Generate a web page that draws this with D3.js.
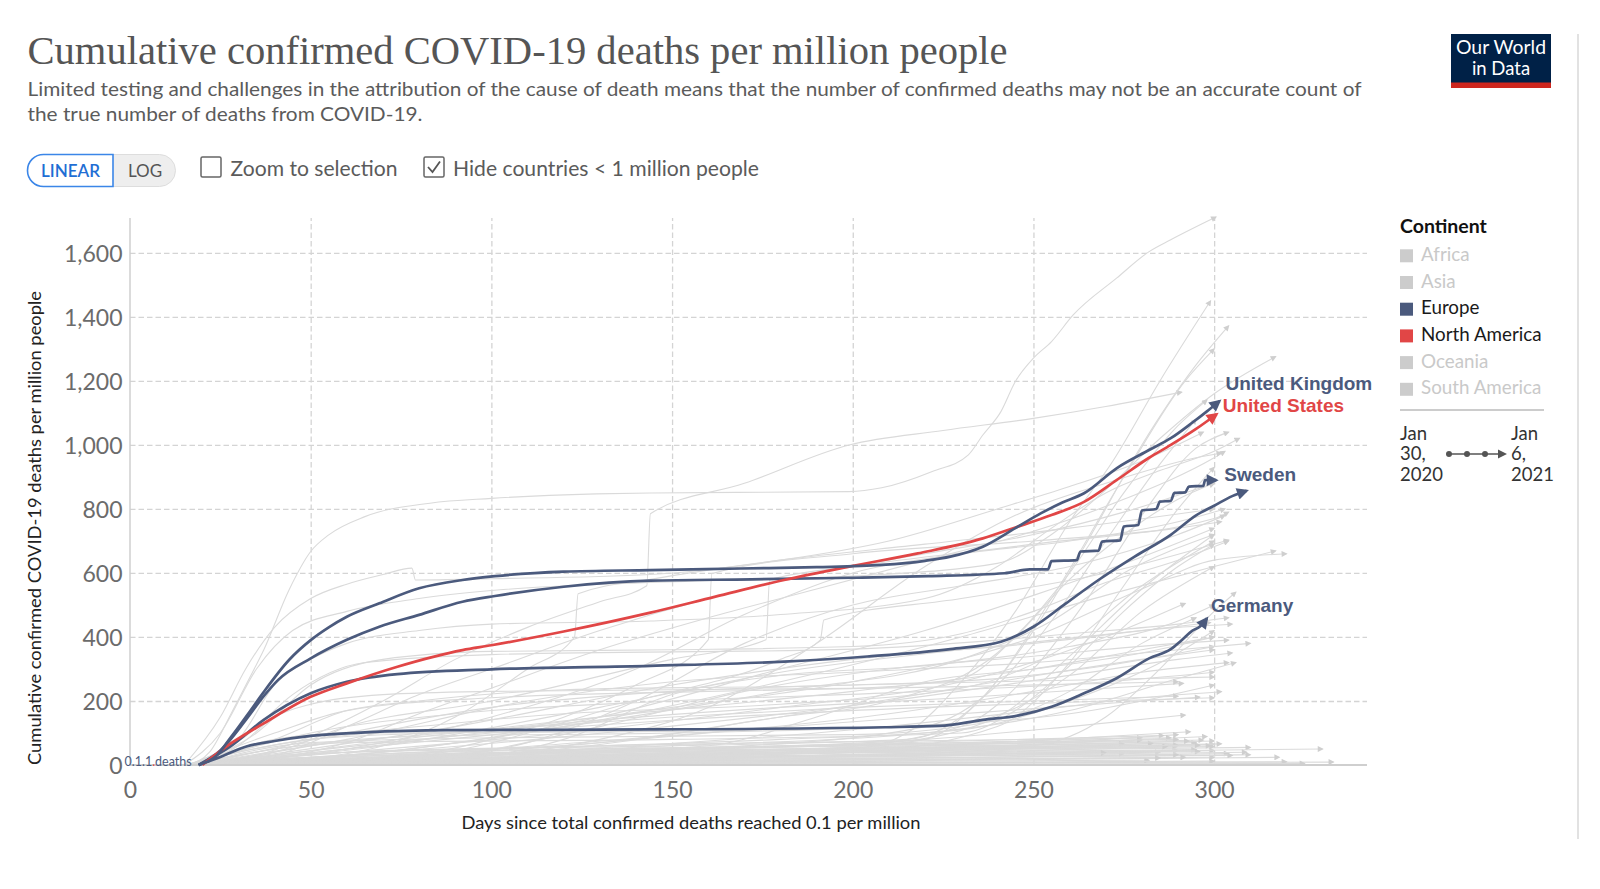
<!DOCTYPE html>
<html><head><meta charset="utf-8">
<script src="https://cdn.jsdelivr.net/npm/d3@7"></script>
<style>
body{margin:0;background:#fff;}
svg text{font-family:Lato,'Noto Sans',sans-serif;}
</style></head><body>
<svg id="chart" width="1600" height="889"></svg>
<script>
// ---------------- DATA ----------------
const xTicks = [0, 50, 100, 150, 200, 250, 300];
const yTicks = [0, 200, 400, 600, 800, 1000, 1200, 1400, 1600];
const continents = ["Africa", "Asia", "Europe", "North America", "Oceania", "South America"];
const activeContinents = ["Europe", "North America"];
const dateStart = ["Jan", "30,", "2020"];
const dateEnd = ["Jan", "6,", "2021"];

// [day, deaths per million]
const unitedKingdom = [[19,0],[24,30],[28,88],[33,165],[37,228],[44,328],[50,390],[55,430],[60,463],[69,505],[80,552],[92,578],[101,590],[120,604],[144,609],[169,614],[190,618],[208,625],[220,638],[227,651],[236,682],[245,740],[252,786],[258,820],[264,849],[273,927],[282,984],[288,1021],[294,1070],[298,1105],[301.5,1137]];
const unitedStates = [[20,0],[28,68],[37,130],[50,213],[60,255],[74,307],[92,359],[100,374],[120,417],[144,476],[162,526],[181,578],[199,620],[218,661],[236,708],[245,742],[255,781],[264,822],[273,890],[282,960],[288,1000],[295,1050],[300.7,1096]];
const sweden = [[19,0],[25,45],[32,140],[37,215],[41,266],[50,333],[60,391],[69,432],[80,469],[92,510],[101,528],[120,557],[144,576],[172,580],[200,585],[221,590],[242,599],[249,611],[254,611],[255,637],[262,640],[263,667],[268,670],[269,698],[274,702],[275,745],[279,750],[280,795],[284,800],[285,823],[288,825],[289,850],[292,852],[293,870],[297,872],[297.5,890],[300.6,890]];
const europeOther = [[19,0],[28,60],[37,141],[50,224],[60,260],[74,284],[100,299],[144,310],[181,323],[204,339],[227,362],[241,385],[250,432],[259,505],[268,578],[278,651],[288,719],[295,780],[300,810],[305,840],[309,857]];
const germany = [[19,0],[25,25],[32,57],[40,75],[50,91],[65,102],[88,109],[144,111],[209,118],[224,122],[236,141],[246,155],[255,182],[264,224],[273,271],[282,333],[288,362],[291,390],[294,420],[296,432],[298,458]];

const otherCountries = [
 [[16,0],[22,40],[28,161],[33,270],[37,359],[44,547],[50,667],[55,719],[65,776],[83,818],[100,833],[129,847],[144,850],[199,854],[208,866],[222,917],[232,969],[236,1031],[241,1104],[245,1198],[250,1271],[255,1323],[261,1406],[273,1521],[282,1604],[288,1641],[300.5,1712]],
 [[16,0],[60,10],[150,30],[200,50],[215,100],[230,260],[245,480],[260,760],[272,950],[285,1200],[299,1450]],
 [[17,0],[80,20],[180,40],[220,80],[235,200],[250,420],[265,700],[280,1000],[295,1250],[304,1372]],
 [[15,0],[25,100],[35,300],[45,420],[60,480],[80,520],[100,545],[144,570],[200,590],[240,630],[255,720],[270,860],[285,1020],[300,1160],[317,1276]],
 [[18,0],[35,30],[50,90],[70,200],[90,330],[110,430],[130,510],[143,560],[144,785],[170,880],[199,1000],[225,1045],[250,1083],[270,1120],[291,1165]],
 [[15,0],[25,150],[32,300],[40,430],[50,520],[60,565],[70,595],[78,615],[79,578],[100,582],[144,595],[180,640],[210,700],[240,800],[260,870],[280,950],[297,1040]],
 [[18,0],[40,20],[60,70],[80,160],[100,240],[130,360],[160,460],[190,550],[220,640],[250,730],[275,830],[300,960],[303,980]],
 [[17,0],[40,30],[60,120],[80,220],[100,300],[130,420],[160,520],[190,600],[220,660],[250,720],[275,790],[300,880]],
 [[18,0],[60,10],[100,30],[130,80],[160,180],[190,380],[220,620],[245,780],[270,880],[295,960],[302,975]],
 [[17,0],[50,20],[70,60],[90,150],[110,300],[123,400],[124,535],[144,580],[180,640],[220,690],[260,740],[300,800]],
 [[19,0],[60,30],[120,120],[180,260],[230,400],[270,530],[300,620],[317,669]],
 [[17,0],[60,40],[120,60],[180,150],[210,200],[240,350],[260,600],[275,850],[290,1060],[298,1140]],
 [[18,0],[80,30],[170,60],[220,120],[240,250],[255,450],[270,700],[285,940],[295,1080]],
 [[19,0],[90,20],[190,50],[230,120],[250,300],[265,520],[280,780],[295,990],[304,1040]],
 [[16,0],[30,80],[40,250],[50,330],[60,380],[80,420],[100,440],[144,450],[180,470],[220,520],[240,620],[255,740],[270,850],[285,920],[300,980],[307,1021]],
 [[18,0],[40,40],[60,120],[100,200],[150,330],[176,391],[177,578],[200,620],[250,690],[300,770],[304,790]],
 [[17,0],[60,10],[100,80],[140,250],[160,391],[161,598],[200,660],[250,700],[290,740],[302,760]],
 [[18,0],[80,30],[140,200],[180,330],[191,390],[192,453],[230,520],[270,600],[304,703]],
 [[16,0],[30,60],[40,150],[50,190],[70,220],[100,230],[200,240],[230,270],[245,400],[260,580],[275,720],[290,830],[300,880]],
 [[17,0],[35,100],[50,250],[70,330],[100,355],[150,360],[200,370],[230,410],[250,480],[270,570],[290,640],[304,700]],
 [[16,0],[32,90],[45,220],[65,320],[100,345],[200,362],[240,390],[260,410],[290,440],[304,460]],
 [[17,0],[40,80],[70,110],[120,160],[180,190],[230,240],[260,380],[280,560],[300,700]],
 [[18,0],[60,50],[120,120],[180,230],[230,330],[255,450],[275,600],[300,720]],
 [[19,0],[80,30],[160,50],[210,70],[240,150],[260,340],[280,550],[300,720]],
 [[18,0],[100,20],[200,40],[240,120],[260,320],[275,560],[290,800],[300,930]],
 [[17,0],[60,40],[150,60],[215,80],[235,200],[255,520],[275,900],[292,1200],[300,1300]],
 [[19,0],[80,20],[110,70],[140,200],[170,380],[200,500],[230,560],[260,620],[290,720],[303,780]],
 [[18,0],[60,50],[100,150],[140,300],[170,470],[200,600],[230,660],[260,700],[290,760],[303,800]],
 [[19,0],[70,40],[130,150],[180,300],[220,420],[250,530],[280,650],[300,740]],
 [[17,0],[40,50],[60,70],[150,80],[230,100],[245,170],[260,310],[275,480],[290,620],[300,690]],
 [[18,0],[100,20],[200,30],[250,60],[270,150],[285,300],[300,480],[306,540]],
 [[15,0],[30,40],[50,80],[100,110],[150,180],[200,260],[250,400],[280,550],[300,640],[320,660]],
 [[18,0],[80,10],[120,80],[150,220],[180,280],[220,310],[260,370],[290,450],[300,500]],
 [[19,0],[80,20],[130,120],[170,230],[210,300],[250,340],[290,380],[304,390]],
 [[18,0],[60,40],[120,100],[180,180],[230,260],[270,400],[292,505]],
 [[19,0],[80,30],[150,90],[210,160],[250,230],[280,290],[304,320]],
 [[17,0],[70,20],[140,60],[200,110],[250,170],[280,210],[302,229]],
 [[18,0],[60,50],[120,130],[180,180],[230,210],[270,240],[291.5,255]],
 [[19,0],[90,20],[160,50],[220,80],[260,120],[292,156]],
 [[18,0],[100,15],[180,40],[240,70],[293.4,104]],
 [[17,0],[80,10],[160,30],[230,55],[270,75],[298,89]],
 [[19,0],[100,8],[200,18],[260,28],[304,36]],
 [[18,0],[120,6],[220,14],[280,20],[318,24]],
 [[17,0],[100,15],[190,30],[250,45],[289.7,57]],
 [[18,0],[50,70],[100,85],[200,95],[240,140],[260,230],[280,380],[295,460]],
 [[19,0],[60,60],[130,150],[200,230],[250,300],[280,360],[300,400]],
 [[18,0],[70,40],[140,110],[210,200],[260,280],[290,330],[305,350]],
 [[17,0],[50,100],[90,160],[150,200],[220,230],[270,260],[300,290]],
 [[16,0],[30,40],[50,80],[70,100],[150,105],[230,130],[260,160],[280,200],[300,250]],
 [[17,0],[40,80],[60,170],[80,200],[120,235],[200,250],[240,270],[270,310],[300,370]],
 [[18,0],[60,80],[110,200],[150,260],[200,290],[250,320],[290,360],[310,380]],
 [[19,0],[40,20],[120,40],[160,60],[190,150],[220,260],[250,300],[280,350],[300,400]],
 [[18,0],[40,50],[80,90],[150,100],[230,130],[260,280],[280,480],[300,620]],
 [[17,0],[40,30],[100,50],[180,80],[230,110],[260,200],[290,350],[300,420]],
 [[19,0],[70,20],[150,60],[220,100],[260,170],[290,270],[306,320]],
 [[18,0],[50,60],[100,110],[150,150],[200,180],[250,200],[290,215]],
 [[17,0],[80,80],[150,140],[220,180],[270,200],[300,210]],
 [[19,0],[60,100],[100,180],[150,230],[200,250],[260,265],[300,275]],
 [[18,0],[100,50],[170,110],[230,160],[280,200],[296,212]],
 [[16,0],[40,100],[60,170],[100,210],[160,230],[230,245],[290,260]],
 [[17,0],[90,120],[150,250],[200,330],[250,380],[290,430],[305,440]],
 [[19,0],[70,60],[130,180],[180,290],[230,360],[280,420],[299,445]],
 [[18,0],[110,40],[180,150],[240,260],[280,330],[300,360]],
 [[16,0],[120,10],[220,18],[300,24]],
 [[17,0],[90,15],[200,30],[290,45]],
 [[18,0],[60,12],[180,40],[260,60],[295,70]],
 [[16,0],[100,5],[250,8],[333,9]],
 [[19,0],[150,20],[250,35],[285,40]],
 [[17,0],[80,25],[160,45],[240,60],[300,75]],
 [[18,0],[120,30],[200,55],[270,80],[290,95]],
 [[16,0],[70,8],[200,20],[310,32]],
 [[19,0],[100,12],[180,22],[275,35]],
 [[17,0],[60,20],[150,50],[230,70],[280,85]],
 [[18,0],[110,40],[200,60],[260,70],[297,78]],
 [[16,0],[90,3],[200,6],[320,10]],
 [[17,0],[130,15],[240,25],[305,30]],
 [[19,0],[100,30],[170,55],[230,75],[286,92]],
 [[18,0],[80,10],[190,28],[300,45]],
 [[16,0],[140,8],[260,14],[282,15]],
 [[17,0],[70,30],[140,45],[220,55],[300,65]],
 [[18,0],[90,20],[180,35],[270,50],[310,55]],
 [[19,0],[60,5],[160,12],[250,20],[292,24]],
 [[16,0],[110,25],[220,40],[295,48]],
 [[17,0],[100,50],[180,70],[250,80],[288,85]],
 [[18,0],[150,30],[250,50],[300,58]],
 [[19,0],[80,40],[160,55],[240,62],[275,66]],
 [[17,0],[120,20],[230,38],[330,50]],
 [[16,0],[60,15],[150,25],[290,32]],
 [[18,0],[100,18],[210,32],[296,42]],
 [[19,0],[90,10],[170,30],[250,55],[283,68]],
 [[17,0],[130,5],[230,9],[300,12]],
 [[18,0],[70,18],[190,42],[280,60],[302,66]],
 [[16,0],[110,35],[210,52],[290,62]],
 [[17,0],[50,10],[120,20],[220,32],[270,38]],
 [[19,0],[160,40],[240,60],[293,75]],
 [[18,0],[100,2],[240,4],[325,5]],
 [[17,0],[80,12],[200,26],[309,40]],
 [[16,0],[120,45],[200,62],[260,72],[280,78]],
 [[18,0],[90,22],[170,38],[250,52],[299,60]],
 [[19,0],[130,25],[220,45],[287,58]],
 [[17,0],[70,6],[170,14],[285,22]],
 [[18,0],[100,28],[200,48],[296,62]],
 [[16,0],[60,30],[130,50],[220,68],[290,80]]
];

const highlighted = [
  {name: "Germany", continent: "Europe", values: germany, label: "Germany"},
  {name: "Europe (other)", continent: "Europe", values: europeOther, label: null},
  {name: "Sweden", continent: "Europe", values: sweden, label: "Sweden"},
  {name: "United States", continent: "North America", values: unitedStates, label: "United States"},
  {name: "United Kingdom", continent: "Europe", values: unitedKingdom, label: "United Kingdom"}
];

// ---------------- STYLE ----------------
const colors = {"Europe": "#4b5a7d", "North America": "#e14646"};
const labelOffset = {"United Kingdom": [6, -11], "United States": [6, -2], "Sweden": [8, 1], "Germany": [4, -6]};
const FONT = "Lato,'Noto Sans',sans-serif";

const svg = d3.select("#chart");
const x = d3.scaleLinear().domain([0, 342.3]).range([130, 1367]);
const y = d3.scaleLinear().domain([0, 1709]).range([765, 218]);

const defs = svg.append("defs");
function addMarker(id, color, w, h) {
  defs.append("marker").attr("id", id).attr("viewBox", "0 0 10 10")
    .attr("refX", 8).attr("refY", 5).attr("markerWidth", w).attr("markerHeight", h)
    .attr("markerUnits", "userSpaceOnUse").attr("orient", "auto")
    .append("path").attr("d", "M0,0L10,5L0,10Z").attr("fill", color);
}
addMarker("arrGray", "#cfcfcf", 7, 6);
addMarker("arrEurope", colors["Europe"], 13, 12);
addMarker("arrNA", colors["North America"], 13, 12);

// Title & subtitle
svg.append("text").attr("x", 27.5).attr("y", 64).attr("fill", "#555")
  .style("font-family", "'Liberation Serif','DejaVu Serif',serif").style("font-size", "41px")
  .attr("textLength", 980).attr("lengthAdjust", "spacingAndGlyphs")
  .text("Cumulative confirmed COVID-19 deaths per million people");
svg.append("text").attr("x", 27.5).attr("y", 96).attr("fill", "#5b5b5b").style("font-size", "19px")
  .attr("textLength", 1334).attr("lengthAdjust", "spacingAndGlyphs")
  .text("Limited testing and challenges in the attribution of the cause of death means that the number of confirmed deaths may not be an accurate count of");
svg.append("text").attr("x", 27.5).attr("y", 120.5).attr("fill", "#5b5b5b").style("font-size", "19px")
  .attr("textLength", 395).attr("lengthAdjust", "spacingAndGlyphs")
  .text("the true number of deaths from COVID-19.");

// Logo
const logo = svg.append("g");
logo.append("rect").attr("x", 1451).attr("y", 34).attr("width", 100).attr("height", 54).attr("fill", "#002147");
logo.append("rect").attr("x", 1451).attr("y", 82.5).attr("width", 100).attr("height", 5.5).attr("fill", "#ce261e");
logo.append("text").attr("x", 1501).attr("y", 53.5).attr("text-anchor", "middle").attr("fill", "#fff")
  .style("font-size", "18.5px").attr("textLength", 90).attr("lengthAdjust", "spacingAndGlyphs").text("Our World");
logo.append("text").attr("x", 1501).attr("y", 75).attr("text-anchor", "middle").attr("fill", "#fff")
  .style("font-size", "18.5px").text("in Data");

// Right frame line
svg.append("line").attr("x1", 1578).attr("x2", 1578).attr("y1", 34).attr("y2", 839)
  .attr("stroke", "#e2e2e2").attr("stroke-width", 2);

// Controls
const ctr = svg.append("g");
ctr.append("rect").attr("x", 27.5).attr("y", 154.5).attr("width", 148).attr("height", 32).attr("rx", 16)
  .attr("fill", "#eeeeee").attr("stroke", "#dddddd");
ctr.append("path").attr("d", "M113,154.5 H43.5 A16,16 0 0 0 43.5,186.5 H113 Z")
  .attr("fill", "#fff").attr("stroke", "#3b86e8").attr("stroke-width", 1.6);
ctr.append("text").attr("x", 70.5).attr("y", 176.5).attr("text-anchor", "middle").attr("fill", "#1f6ed4")
  .style("font-size", "17px").style("font-weight", "600").text("LINEAR");
ctr.append("text").attr("x", 145).attr("y", 176.5).attr("text-anchor", "middle").attr("fill", "#555")
  .style("font-size", "17px").text("LOG");
ctr.append("rect").attr("x", 201).attr("y", 157).attr("width", 20).attr("height", 20).attr("rx", 1.5)
  .attr("fill", "#fff").attr("stroke", "#666").attr("stroke-width", 1.5);
ctr.append("text").attr("x", 230.5).attr("y", 176).attr("fill", "#5b5b5b").style("font-size", "20.5px")
  .attr("textLength", 167).attr("lengthAdjust", "spacingAndGlyphs").text("Zoom to selection");
ctr.append("rect").attr("x", 424).attr("y", 157).attr("width", 20).attr("height", 20).attr("rx", 1.5)
  .attr("fill", "#fff").attr("stroke", "#666").attr("stroke-width", 1.5);
ctr.append("path").attr("d", "M428,167 L432.5,172 L440,161.5").attr("fill", "none")
  .attr("stroke", "#555").attr("stroke-width", 1.8);
ctr.append("text").attr("x", 453).attr("y", 176).attr("fill", "#5b5b5b").style("font-size", "20.5px")
  .attr("textLength", 306).attr("lengthAdjust", "spacingAndGlyphs").text("Hide countries < 1 million people");

// Grid + axes
const gy = svg.append("g").attr("transform", `translate(${x(0)},0)`)
  .call(d3.axisLeft(y).tickValues(yTicks).tickSizeInner(-(x.range()[1] - x.range()[0])).tickSizeOuter(0)
    .tickPadding(7.5).tickFormat(d3.format(",")));
gy.select(".domain").remove();
gy.selectAll(".tick").filter(d => d === 0).select("line").remove();
gy.selectAll(".tick line").attr("stroke", "#d4d4d4").attr("stroke-width", 1.3).attr("stroke-dasharray", "5.5,3");
gy.selectAll(".tick text").attr("fill", "#6b6b6b").attr("dy", "0.36em")
  .style("font-size", "23px").style("font-family", FONT);

const gx = svg.append("g").attr("transform", `translate(0,${y(0)})`)
  .call(d3.axisBottom(x).tickValues(xTicks).tickSizeInner(-(y.range()[0] - y.range()[1])).tickSizeOuter(0)
    .tickPadding(16.7));
gx.select(".domain").remove();
gx.selectAll(".tick").filter(d => d === 0).select("line").remove();
gx.selectAll(".tick line").attr("stroke", "#d4d4d4").attr("stroke-width", 1.3).attr("stroke-dasharray", "5.5,3");
gx.selectAll(".tick text").attr("fill", "#6b6b6b").style("font-size", "23px").style("font-family", FONT);

// Axis titles
svg.append("text").attr("transform", `translate(41,528) rotate(-90)`).attr("text-anchor", "middle")
  .attr("fill", "#222").style("font-size", "17px").attr("textLength", 474).attr("lengthAdjust", "spacingAndGlyphs")
  .text("Cumulative confirmed COVID-19 deaths per million people");
svg.append("text").attr("x", 691).attr("y", 828.5).attr("text-anchor", "middle")
  .attr("fill", "#222").style("font-size", "17px").attr("textLength", 459).attr("lengthAdjust", "spacingAndGlyphs")
  .text("Days since total confirmed deaths reached 0.1 per million");

// Lines
const line = d3.line().x(d => x(d[0])).y(d => y(d[1])).curve(d3.curveMonotoneX);
svg.append("g").selectAll("path").data(otherCountries).join("path")
  .attr("d", line).attr("fill", "none").attr("stroke", "#dadada").attr("stroke-width", 1.1)
  .attr("marker-end", "url(#arrGray)");

// axis lines
svg.append("line").attr("x1", x(0)).attr("x2", x(0)).attr("y1", y.range()[1]).attr("y2", y(0))
  .attr("stroke", "#cfcfcf").attr("stroke-width", 1.5);
svg.append("line").attr("x1", x(0)).attr("x2", x.range()[1]).attr("y1", y(0)).attr("y2", y(0))
  .attr("stroke", "#cfcfcf").attr("stroke-width", 2);

const hl = svg.append("g");
hl.selectAll("path").data(highlighted).join("path")
  .attr("d", d => line(d.values)).attr("fill", "none")
  .attr("stroke", d => colors[d.continent]).attr("stroke-width", 2.7).attr("stroke-linejoin", "round")
  .attr("marker-end", d => d.continent === "Europe" ? "url(#arrEurope)" : "url(#arrNA)");

hl.selectAll("text").data(highlighted.filter(d => d.label)).join("text")
  .attr("x", d => x(d.values[d.values.length - 1][0]) + labelOffset[d.label][0])
  .attr("y", d => y(d.values[d.values.length - 1][1]) + labelOffset[d.label][1])
  .attr("fill", d => colors[d.continent])
  .style("font-family", "'Liberation Sans',Arial,sans-serif").style("font-weight", "bold").style("font-size", "19px")
  .text(d => d.label);

// start annotation
const ann = svg.append("text").attr("x", 124.5).attr("y", 766).style("font-size", "12.5px").attr("fill", colors["Europe"]);
ann.append("tspan").text("0.1.1");
ann.append("tspan").attr("fill", colors["North America"]).text(".");
ann.append("tspan").text("deaths");

// Legend
const lg = svg.append("g");
lg.append("text").attr("x", 1400).attr("y", 233).attr("fill", "#111").style("font-size", "19.5px")
  .style("font-weight", "bold").text("Continent");
const items = lg.selectAll("g.item").data(continents).join("g").attr("class", "item")
  .attr("transform", (d, i) => `translate(1400,${249.3 + i * 26.7})`);
items.append("rect").attr("width", 13).attr("height", 13)
  .attr("fill", d => activeContinents.includes(d) ? colors[d] : "#cccccc");
items.append("text").attr("x", 21).attr("y", 11.5).style("font-size", "18.8px")
  .attr("fill", d => activeContinents.includes(d) ? "#1a1a1a" : "#c9c9c9").text(d => d);
lg.append("line").attr("x1", 1400).attr("x2", 1544).attr("y1", 410).attr("y2", 410)
  .attr("stroke", "#cccccc").attr("stroke-width", 2);
lg.selectAll("text.ds").data(dateStart).join("text").attr("class", "ds")
  .attr("x", 1400).attr("y", (d, i) => 439.5 + i * 20.5).attr("fill", "#333").style("font-size", "18.5px").text(d => d);
lg.selectAll("text.de").data(dateEnd).join("text").attr("class", "de")
  .attr("x", 1511).attr("y", (d, i) => 439.5 + i * 20.5).attr("fill", "#333").style("font-size", "18.5px").text(d => d);
lg.append("line").attr("x1", 1449).attr("x2", 1500).attr("y1", 454).attr("y2", 454)
  .attr("stroke", "#555").attr("stroke-width", 1.5);
lg.selectAll("circle").data([1449, 1467, 1485]).join("circle").attr("cx", d => d).attr("cy", 454).attr("r", 3)
  .attr("fill", "#555");
lg.append("path").attr("d", "M1498,449.5 L1507,454 L1498,458.5 Z").attr("fill", "#555");
</script>
</body></html>
